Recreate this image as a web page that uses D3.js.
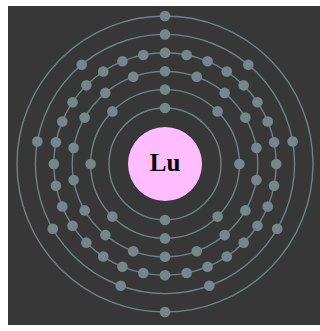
<!DOCTYPE html>
<html><head><meta charset="utf-8">
<script src="https://cdn.jsdelivr.net/npm/d3@7"></script>
<style>html,body{margin:0;padding:0;background:#fff;}svg{display:block;}</style>
</head><body>
<script>
const symbol = "Lu";
const shells = [1, 2, 3, 4, 5, 6];
const electronsPerShell = [2, 8, 18, 32, 9, 2];

const W = 320, H = 331;
const cx = 165, cy = 164;
const svg = d3.select("body").append("svg").attr("width", W).attr("height", H);
svg.append("rect").attr("x", 8).attr("y", 6).attr("width", W - 8).attr("height", 319).attr("fill", "#373737");

const r = d3.scaleLinear().domain([1, 6]).range([56, 148]);
const g = svg.append("g").attr("transform", `translate(${cx},${cy})`);

g.selectAll("circle.orbit").data(shells).join("circle")
  .attr("class", "orbit").attr("r", d => r(d))
  .attr("fill", "none").attr("stroke", "#718185").attr("stroke-width", 1.4);

shells.forEach((s, i) => {
  const n = electronsPerShell[i];
  const angle = d3.scaleLinear().domain([0, n]).range([0, 2 * Math.PI]);
  g.selectAll(`circle.e${s}`).data(d3.range(n)).join("circle")
    .attr("class", `e${s}`)
    .attr("cx", k => r(s) * Math.sin(angle(k)))
    .attr("cy", k => -r(s) * Math.cos(angle(k)))
    .attr("r", 5.3)
    .attr("fill", "#76878b");
});

g.append("circle").attr("r", 37).attr("fill", "#ffbcff");
g.append("text").text(symbol).attr("y", 1).attr("text-anchor", "middle")
  .attr("dominant-baseline", "middle")
  .attr("font-family", "'Liberation Serif', 'DejaVu Serif', serif")
  .attr("font-weight", "bold").attr("font-size", 25).attr("fill", "#000");
</script>
</body></html>
